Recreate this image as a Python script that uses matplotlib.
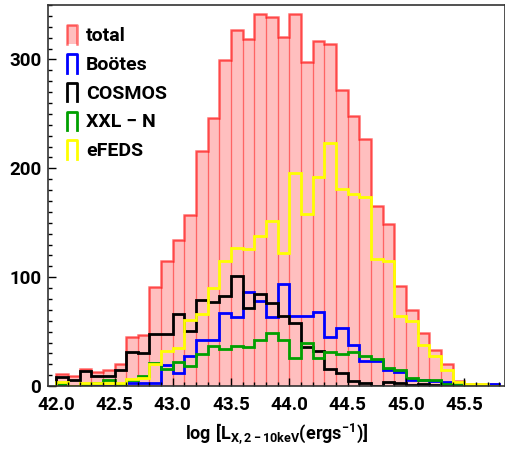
import numpy as np
import matplotlib
matplotlib.use("Agg")
import matplotlib.pyplot as plt
from matplotlib import font_manager
from matplotlib.lines import Line2D
from matplotlib.patches import Polygon
from matplotlib.legend_handler import HandlerBase
from matplotlib.ticker import MultipleLocator


def pick_font(candidates):
    # première police réellement installée
    for name in candidates:
        try:
            font_manager.findfont(font_manager.FontProperties(family=name), fallback_to_default=False)
            return name
        except ValueError:
            continue
    return 'DejaVu Sans'


FONT = pick_font(['Roboto', 'Liberation Sans'])

plt.rcParams['font.family'] = [FONT, 'DejaVu Sans']
plt.rcParams['font.weight'] = 'bold'
plt.rcParams['mathtext.fontset'] = 'custom'
plt.rcParams['mathtext.rm'] = FONT + ':bold'
plt.rcParams['mathtext.it'] = FONT + ':bold'
plt.rcParams['mathtext.bf'] = FONT + ':bold'

# bins de 0.1 dex entre 42.0 et 45.8
bin_start = 42.0
bin_width = 0.1
n_bins = 38

total = [11, 9, 16, 13, 15, 20, 45, 47, 91, 115, 134, 157, 216, 246, 299, 327, 319, 342, 339,
         321, 342, 298, 317, 314, 272, 248, 227, 165, 149, 92, 70, 49, 33, 20, 5, 2, 2, 2]
bootes = [0, 0, 0, 0, 0, 0, 3, 3, 3, 19, 12, 28, 42, 42, 67, 63, 86, 78, 63,
          94, 64, 64, 68, 45, 53, 38, 23, 23, 15, 13, 6, 6, 4.5, 3.5, 2.5, 1, 1, 2]
cosmos = [8, 5.5, 13.5, 9.5, 9.5, 15, 31, 30, 48, 48, 66, 51, 79, 77, 83, 101, 72, 85, 76,
          64, 57.5, 36, 32, 16, 12, 5, 2.5, 0, 3.5, 3, 1, 2, 1, 1, 0, 0, 0, 0]
xxln = [2, 0, 1, 3, 5.5, 1.5, 6, 9, 21, 16, 22, 18, 29, 37, 34, 37, 36, 42, 49,
        42, 26, 40, 26, 31, 29, 31, 28, 25, 17, 15, 7, 5.5, 5.5, 2, 1, 0, 0, 0]
efeds = [3.5, 0, 2.5, 2.5, 2.5, 3, 6.5, 7.5, 20, 32, 35, 61, 66, 90, 115, 127, 126, 138, 152,
         122, 196, 158, 192, 223, 181, 176, 174, 117, 115, 64, 60, 38, 27.5, 15, 4, 2, 2, 0]

labels = ['total', 'Boötes', 'COSMOS', 'XXL − N', 'eFEDS']
colors = ['#ff0000', '#0000ff', '#000000', '#00a000', '#ffff00']

edges = np.round(bin_start + bin_width * np.arange(n_bins + 1), 2)


class HandlerCap(HandlerBase):
    """Symbole de légende en forme de marche."""
    def __init__(self, edge, fill=None, lw=2.0):
        super().__init__()
        self.edge = edge
        self.fill = fill
        self.lw = lw

    def create_artists(self, legend, orig_handle, xdescent, ydescent, width, height, fontsize, trans):
        w = 7.0
        x0 = -xdescent + (width - w) / 2 + 2
        y0 = -ydescent - 0.15 * height
        y1 = -ydescent + 1.1 * height
        xs = [x0, x0, x0 + w, x0 + w]
        ys = [y0, y1, y1, y0]
        arts = []
        if self.fill is not None:
            p = Polygon(list(zip(xs, ys)), closed=True, facecolor=self.fill, edgecolor='none')
            p.set_transform(trans)
            arts.append(p)
        line = Line2D(xs, ys, color=self.edge, lw=self.lw)
        line.set_transform(trans)
        arts.append(line)
        return arts


fig = plt.figure(figsize=(5.06, 4.51), dpi=100)
ax = fig.add_axes([0.095, 0.144, 0.903, 0.845])

# histogramme total : barres remplies + contour
ax.bar(edges[:-1], total, width=bin_width, align='edge',
       color=(1, 0, 0, 0.25), edgecolor=(1, 0, 0, 0.28), linewidth=0.9)
h_total = ax.stairs(total, edges, color=(1, 0, 0, 0.55), linewidth=1.8)

handles = [h_total]
handler_map = {h_total: HandlerCap((1, 0, 0, 0.55), fill=(1, 0, 0, 0.25), lw=1.8)}
for vals, col in zip([bootes, cosmos, xxln, efeds], colors[1:]):
    h = ax.stairs(vals, edges, color=col, linewidth=2.0)
    handles.append(h)
    handler_map[h] = HandlerCap(col, lw=2.0)

ax.set_xlim(41.93, 45.85)
ax.set_ylim(0, 350)
ax.xaxis.set_major_locator(MultipleLocator(0.5))
ax.xaxis.set_minor_locator(MultipleLocator(0.1))
ax.yaxis.set_major_locator(MultipleLocator(100))
ax.yaxis.set_minor_locator(MultipleLocator(10))
ax.xaxis.set_major_formatter(plt.FormatStrFormatter('%.1f'))
ax.tick_params(which='both', direction='in', top=False, right=False, labelsize=13.5, width=1.0)
ax.tick_params(which='major', length=6)
ax.tick_params(which='minor', length=3)
ax.tick_params(axis='x', pad=7)
ax.tick_params(axis='y', pad=5)
for sp in ax.spines.values():
    sp.set_linewidth(1.2)
    sp.set_color('#333333')

ax.set_xlabel(r'$\log\,[\mathrm{L}_{\mathrm{X,2-10keV}}(\mathrm{ergs}^{-1})]$', fontsize=13, labelpad=6)

ax.legend(handles, labels, handler_map=handler_map, loc='upper left', frameon=False,
          fontsize=14, handlelength=0.8, handleheight=0.8, handletextpad=0.45,
          labelspacing=0.54, borderaxespad=0.3, bbox_to_anchor=(0.0, 0.978))

fig.savefig('out.png', dpi=100)
